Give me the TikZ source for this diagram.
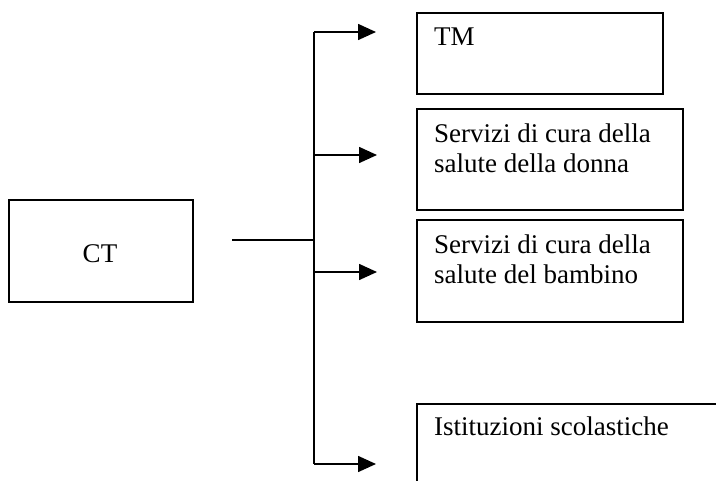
\documentclass[tikz,border=0pt]{standalone}
\usepackage{fontspec}
\setmainfont{Liberation Serif}
\usetikzlibrary{arrows.meta}
\begin{document}
\begin{tikzpicture}[x=1pt,y=-1pt,
  box/.style={draw,line width=1.6pt,inner sep=0pt,anchor=north west},
  label/.style={anchor=base west,inner sep=0pt,font=\fontsize{27}{30}\selectfont,align=left},
  wire/.style={line width=1.6pt},
  feed/.style={line width=1.6pt,-{Triangle[length=18pt,width=16pt]}}]
\useasboundingbox (0,0) rectangle (716,481);

% source box
\node[box,minimum width=184pt,minimum height=102pt] (ct) at (8,199) {};
\node[anchor=base,inner sep=0pt,font=\fontsize{27}{30}\selectfont] (ctlabel) at (100,263) {CT};

% target boxes
\node[box,minimum width=246pt,minimum height=81pt] (tm) at (416,12) {};
\node[box,minimum width=266pt,minimum height=101pt] (donna) at (416,108) {};
\node[box,minimum width=266pt,minimum height=102pt] (bambino) at (416,219) {};
\begin{scope}
  \clip (0,0) rectangle (716,481);
  \node[box,minimum width=340pt,minimum height=120pt] (scuola) at (416,403) {};
\end{scope}

% box texts (multi-line nodes are placed by the baseline of their last line)
\node[label] (tmlabel) at (434,46) {TM};
\node[label] (donnalabel) at (434,173) {Servizi di cura della\\salute della donna};
\node[label] (bambinolabel) at (434,284) {Servizi di cura della\\salute del bambino};
\node[label] (scuolalabel) at (434,436) {Istituzioni scolastiche};

% trunk and branches
\coordinate (stub) at (232,240);
\coordinate (join) at (314,240);
\coordinate (top) at (314,32);
\coordinate (bottom) at (314,464);
\coordinate (b1) at (314,155);
\coordinate (b2) at (314,272);
\coordinate (t0) at (376,32);
\coordinate (t1) at (377,155);
\coordinate (t2) at (377,272);
\coordinate (t3) at (376,464);

\draw[wire] (stub) -- (join);
\draw[wire] (top) -- (bottom);
\draw[feed] (top) -- (t0);
\draw[feed] (b1) -- (t1);
\draw[feed] (b2) -- (t2);
\draw[feed] (bottom) -- (t3);
\end{tikzpicture}
\end{document}
